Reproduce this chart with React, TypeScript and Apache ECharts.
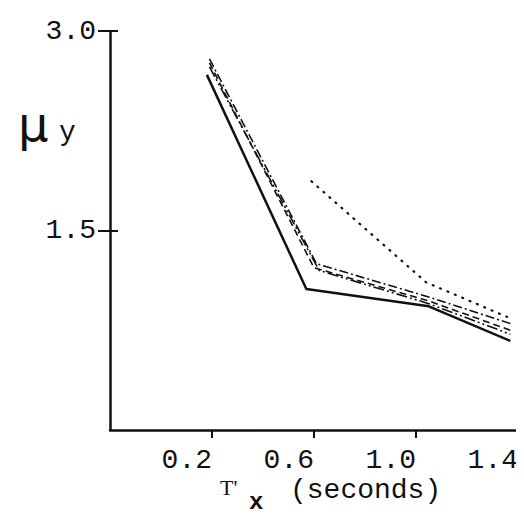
import React, { useEffect, useRef } from "react";
import * as echarts from "echarts";

// Data (period T'x in seconds, ductility μy)
const solidX = [0.18, 0.57, 1.05, 1.37];
const solidY = [2.67, 1.06, 0.93, 0.67];

const dashDotX = [0.19, 0.61, 1.05, 1.37];
const dashDotY = [2.79, 1.25, 1.0, 0.8];

const dashedX = [0.19, 0.6, 1.05, 1.37];
const dashedY = [2.76, 1.22, 0.97, 0.75];

const dashDotDotX = [0.19, 0.62, 1.05, 1.37];
const dashDotDotY = [2.73, 1.2, 0.95, 0.72];

const dottedX = [0.59, 1.04, 1.37];
const dottedY = [1.87, 1.11, 0.84];

const xTicks = [0.2, 0.6, 1.0, 1.4];
const yTicks = [1.5, 3.0];

const INK = "#111";
const MONO = "'Liberation Mono', 'DejaVu Sans Mono', monospace";

function pairs(xs: number[], ys: number[]) {
  return xs.map((x, i) => [x, ys[i]]);
}

function lineSeries(xs: number[], ys: number[], type: any, width: number, cap = "butt") {
  return {
    type: "line",
    data: pairs(xs, ys),
    showSymbol: false,
    symbol: "none",
    lineStyle: { color: INK, width, type, cap },
  };
}

export default function App() {
  const ref = useRef<HTMLDivElement>(null);
  useEffect(() => {
    if (!ref.current) return;
    const chart = echarts.init(ref.current, null, { renderer: "svg" });
    const fmt = (v: number) => Number(v).toFixed(1);
    chart.setOption({
      animation: false,
      backgroundColor: "#fff",
      grid: { left: 102, right: 14, top: 23, bottom: 94 },
      xAxis: {
        type: "value",
        min: -0.2,
        max: 1.4,
        interval: 0.4,
        axisLine: { show: true, onZero: false, lineStyle: { color: INK, width: 2.5 } },
        axisTick: {
          show: true,
          inside: false,
          length: 8,
          customValues: xTicks,
          lineStyle: { color: INK, width: 2 },
        },
        axisLabel: {
          customValues: xTicks,
          formatter: fmt,
          color: INK,
          fontFamily: MONO,
          fontSize: 28,
          align: "right",
          margin: 16,
        },
        splitLine: { show: false },
      },
      yAxis: [
        {
          type: "value",
          min: 0,
          max: 3,
          interval: 1.5,
          axisLine: { show: true, onZero: false, lineStyle: { color: INK, width: 2.5 } },
          axisTick: {
            show: true,
            inside: true,
            length: 8,
            customValues: yTicks,
            lineStyle: { color: INK, width: 2 },
          },
          axisLabel: {
            customValues: yTicks,
            formatter: fmt,
            color: INK,
            fontFamily: MONO,
            fontSize: 28,
            margin: 14,
          },
          splitLine: { show: false },
        },
        {
          type: "value",
          position: "left",
          offset: 0,
          min: 0,
          max: 3,
          interval: 1.5,
          axisLine: { show: false, onZero: false },
          axisTick: {
            show: true,
            inside: false,
            length: 12,
            customValues: yTicks,
            lineStyle: { color: INK, width: 2 },
          },
          axisLabel: { show: false },
          splitLine: { show: false },
        },
      ],
      series: [
        lineSeries(solidX, solidY, "solid", 2.5),
        lineSeries(dashDotX, dashDotY, [9, 3, 2, 3], 1.6),
        lineSeries(dashedX, dashedY, [7, 4], 1.6),
        lineSeries(dashDotDotX, dashDotDotY, [11, 3, 2, 3, 2, 3], 1.6),
        lineSeries(dottedX, dottedY, [1, 7], 2.2, "round"),
      ],
      graphic: [
        {
          type: "text",
          left: 10,
          top: 92,
          style: { text: "μ", fill: INK, font: "48px 'DejaVu Sans', sans-serif" },
        },
        {
          type: "text",
          left: 51,
          top: 110,
          style: { text: "y", fill: INK, font: "28px " + MONO },
        },
        {
          type: "text",
          left: 212,
          top: 468,
          style: { text: "T'", fill: INK, font: "22px 'Liberation Serif', serif" },
        },
        {
          type: "text",
          left: 241,
          top: 482,
          style: { text: "x", fill: INK, font: "bold 24px " + MONO },
        },
        {
          type: "text",
          left: 282,
          top: 468,
          style: { text: "(seconds)", fill: INK, font: "28px " + MONO },
        },
      ],
    });
    return () => chart.dispose();
  }, []);
  return <div ref={ref} style={{ width: 524, height: 516 }} />;
}
